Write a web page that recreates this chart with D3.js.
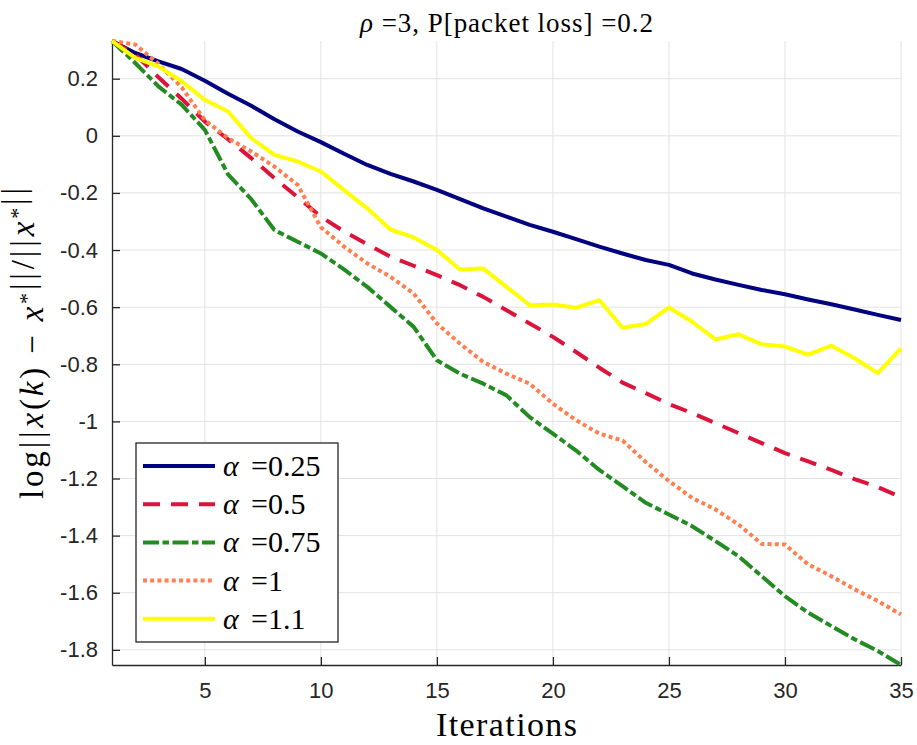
<!DOCTYPE html>
<html>
<head>
<meta charset="utf-8">
<script src="https://cdn.jsdelivr.net/npm/d3@7"></script>
<style>
  body { margin: 0; background: #fff; }
  svg { display: block; }
  .tick text { font-family: "Liberation Sans", Arial, sans-serif; font-size: 22px; fill: #262626; }
  .serif { font-family: "Liberation Serif", "Times New Roman", serif; fill: #000; }
</style>
</head>
<body>
<div id="chart"></div>
<script>
var width = 917,
    height = 745;

var margin = {top: 41, right: 16, bottom: 80, left: 112};

// iteration index
var iterations = [1, 2, 3, 4, 5, 6, 7, 8, 9, 10, 11, 12, 13, 14, 15, 16, 17, 18,
    19, 20, 21, 22, 23, 24, 25, 26, 27, 28, 29, 30, 31, 32, 33, 34, 35];

// log relative error, one list per alpha
var alpha025 = [0.332, 0.29, 0.261, 0.234, 0.193, 0.147, 0.105, 0.058, 0.015, -0.022,
    -0.063, -0.102, -0.133, -0.160, -0.189, -0.222, -0.254, -0.283, -0.312, -0.336,
    -0.362, -0.388, -0.412, -0.435, -0.452, -0.482, -0.503, -0.522, -0.540, -0.555,
    -0.573, -0.590, -0.608, -0.627, -0.645];
var alpha05 = [0.332, 0.285, 0.205, 0.13, 0.05, -0.012, -0.078, -0.148, -0.215, -0.283,
    -0.335, -0.38, -0.423, -0.455, -0.488, -0.523, -0.564, -0.611, -0.657, -0.704,
    -0.757, -0.812, -0.864, -0.901, -0.939, -0.971, -1.006, -1.041, -1.076, -1.111,
    -1.14, -1.17, -1.202, -1.23, -1.265];
var alpha075 = [0.332, 0.255, 0.173, 0.109, 0.021, -0.135, -0.222, -0.33, -0.371, -0.412,
    -0.468, -0.529, -0.599, -0.669, -0.786, -0.833, -0.868, -0.909, -0.985, -1.043,
    -1.102, -1.17, -1.227, -1.285, -1.326, -1.367, -1.419, -1.472, -1.542, -1.612,
    -1.67, -1.717, -1.763, -1.804, -1.853];
var alpha1 = [0.332, 0.32, 0.252, 0.17, 0.055, -0.008, -0.055, -0.108, -0.172, -0.32,
    -0.388, -0.447, -0.494, -0.552, -0.657, -0.728, -0.792, -0.833, -0.868, -0.938,
    -0.996, -1.043, -1.067, -1.142, -1.209, -1.268, -1.308, -1.361, -1.429, -1.431,
    -1.501, -1.542, -1.588, -1.629, -1.676];
var alpha11 = [0.332, 0.273, 0.243, 0.191, 0.126, 0.085, -0.008, -0.067, -0.09, -0.125,
    -0.19, -0.254, -0.328, -0.356, -0.4, -0.468, -0.465, -0.529, -0.593, -0.591,
    -0.602, -0.575, -0.672, -0.659, -0.601, -0.651, -0.713, -0.695, -0.730, -0.738,
    -0.766, -0.735, -0.779, -0.831, -0.744];

var legendLabels = ["0.25", "0.5", "0.75", "1", "1.1"];
var xTicks = [5, 10, 15, 20, 25, 30, 35];
var yTicks = [0.2, 0, -0.2, -0.4, -0.6, -0.8, -1, -1.2, -1.4, -1.6, -1.8];

var series = [
    {label: legendLabels[0], values: alpha025, color: "#000080", dash: null},
    {label: legendLabels[1], values: alpha05, color: "#DC143C", dash: "17,11"},
    {label: legendLabels[2], values: alpha075, color: "#228B22", dash: "16,3.5,6.5,3.5"},
    {label: legendLabels[3], values: alpha1, color: "#FF7F50", dash: "4,3.2"},
    {label: legendLabels[4], values: alpha11, color: "#FFFF00", dash: null}
];

var svg = d3.select("#chart")
    .append("svg")
    .attr("width", width)
    .attr("height", height);

var allValues = d3.merge(series.map(function (s) { return s.values; }));

var x = d3.scaleLinear()
    .domain(d3.extent(iterations))
    .range([margin.left, width - margin.right]);

var y = d3.scaleLinear()
    .domain(d3.extent(allValues))
    .range([height - margin.bottom, margin.top]);

// grid
var grid = svg.append("g").attr("class", "grid");
grid.selectAll("line.gx")
    .data(xTicks)
    .enter().append("line")
    .attr("class", "gx")
    .attr("x1", function (d) { return x(d); })
    .attr("x2", function (d) { return x(d); })
    .attr("y1", y.range()[1])
    .attr("y2", y.range()[0])
    .style("stroke", "#e2e2e2")
    .style("stroke-width", 1);
grid.selectAll("line.gy")
    .data(yTicks)
    .enter().append("line")
    .attr("class", "gy")
    .attr("x1", x.range()[0])
    .attr("x2", x.range()[1])
    .attr("y1", function (d) { return y(d); })
    .attr("y2", function (d) { return y(d); })
    .style("stroke", "#e2e2e2")
    .style("stroke-width", 1);

// axes
svg.append("g")
    .attr("transform", "translate(0," + y.range()[0] + ")")
    .call(d3.axisBottom(x).tickValues(xTicks).tickSize(-8).tickSizeOuter(0).tickPadding(17)
        .tickFormat(d3.format("d")));

svg.append("g")
    .attr("transform", "translate(" + x.range()[0] + ",0)")
    .call(d3.axisLeft(y).tickValues(yTicks).tickSize(-8).tickSizeOuter(0).tickPadding(14)
        .tickFormat(function (d) { return d === 0 ? "0" : String(d); }));

svg.selectAll(".domain, .tick line")
    .style("stroke", "#262626")
    .style("stroke-width", 1.3);

// lines
var line = d3.line()
    .x(function (d, i) { return x(iterations[i]); })
    .y(function (d) { return y(d); });

svg.append("g")
    .selectAll("path")
    .data(series)
    .enter().append("path")
    .attr("d", function (d) { return line(d.values); })
    .style("fill", "none")
    .style("stroke", function (d) { return d.color; })
    .style("stroke-width", 4)
    .style("stroke-linejoin", "round")
    .style("stroke-dasharray", function (d) { return d.dash; });

// title
var title = svg.append("text")
    .attr("class", "serif")
    .attr("x", (x.range()[0] + x.range()[1]) / 2)
    .attr("y", 32)
    .attr("text-anchor", "middle")
    .style("font-size", "27px")
    .attr("textLength", 293)
    .attr("lengthAdjust", "spacing");
title.append("tspan").style("font-style", "italic").text("\u03C1");
title.append("tspan").text(" =3, P[packet loss] =0.2");

// x label
svg.append("text")
    .attr("class", "serif")
    .attr("x", (x.range()[0] + x.range()[1]) / 2)
    .attr("y", 736)
    .attr("text-anchor", "middle")
    .style("font-size", "34px")
    .attr("textLength", 141)
    .attr("lengthAdjust", "spacing")
    .text("Iterations");

// y label
var ylab = svg.append("text")
    .attr("class", "serif")
    .attr("transform", "translate(43," + ((y.range()[0] + y.range()[1]) / 2 - 10) + ") rotate(-90)")
    .attr("text-anchor", "middle")
    .style("font-size", "33px")
    .attr("textLength", 312)
    .attr("lengthAdjust", "spacing");
function norm(t) {
    t.append("tspan").style("letter-spacing", "1px").text("||");
}
ylab.append("tspan").text("log");
norm(ylab);
ylab.append("tspan").style("font-style", "italic").text("x");
ylab.append("tspan").text("(");
ylab.append("tspan").style("font-style", "italic").text("k");
ylab.append("tspan").text(") \u2212 ");
ylab.append("tspan").style("font-style", "italic").text("x");
ylab.append("tspan").attr("dy", -9).style("font-size", "22px").text("*");
ylab.append("tspan").attr("dy", 9).text("");
norm(ylab);
ylab.append("tspan").text("/");
norm(ylab);
ylab.append("tspan").style("font-style", "italic").text("x");
ylab.append("tspan").attr("dy", -9).style("font-size", "22px").text("*");
ylab.append("tspan").attr("dy", 9).text("");
norm(ylab);

// legend
var legend = svg.append("g")
    .attr("transform", "translate(136,443)");

legend.append("rect")
    .attr("width", 202)
    .attr("height", 199)
    .style("fill", "#fff")
    .style("stroke", "#262626")
    .style("stroke-width", 1.3);

var item = legend.selectAll("g.item")
    .data(series)
    .enter().append("g")
    .attr("class", "item")
    .attr("transform", function (d, i) { return "translate(0," + (23 + i * 38.2) + ")"; });

item.append("line")
    .attr("x1", 7)
    .attr("x2", 79)
    .style("stroke", function (d) { return d.color; })
    .style("stroke-width", 4)
    .style("stroke-dasharray", function (d) { return d.dash; });

var itemText = item.append("text")
    .attr("class", "serif")
    .attr("y", 10)
    .style("font-size", "30px");
itemText.append("tspan").attr("x", 87).style("font-style", "italic").text("\u03B1");
itemText.append("tspan").attr("x", 115).text(function (d) { return "=" + d.label; });
</script>
</body>
</html>
